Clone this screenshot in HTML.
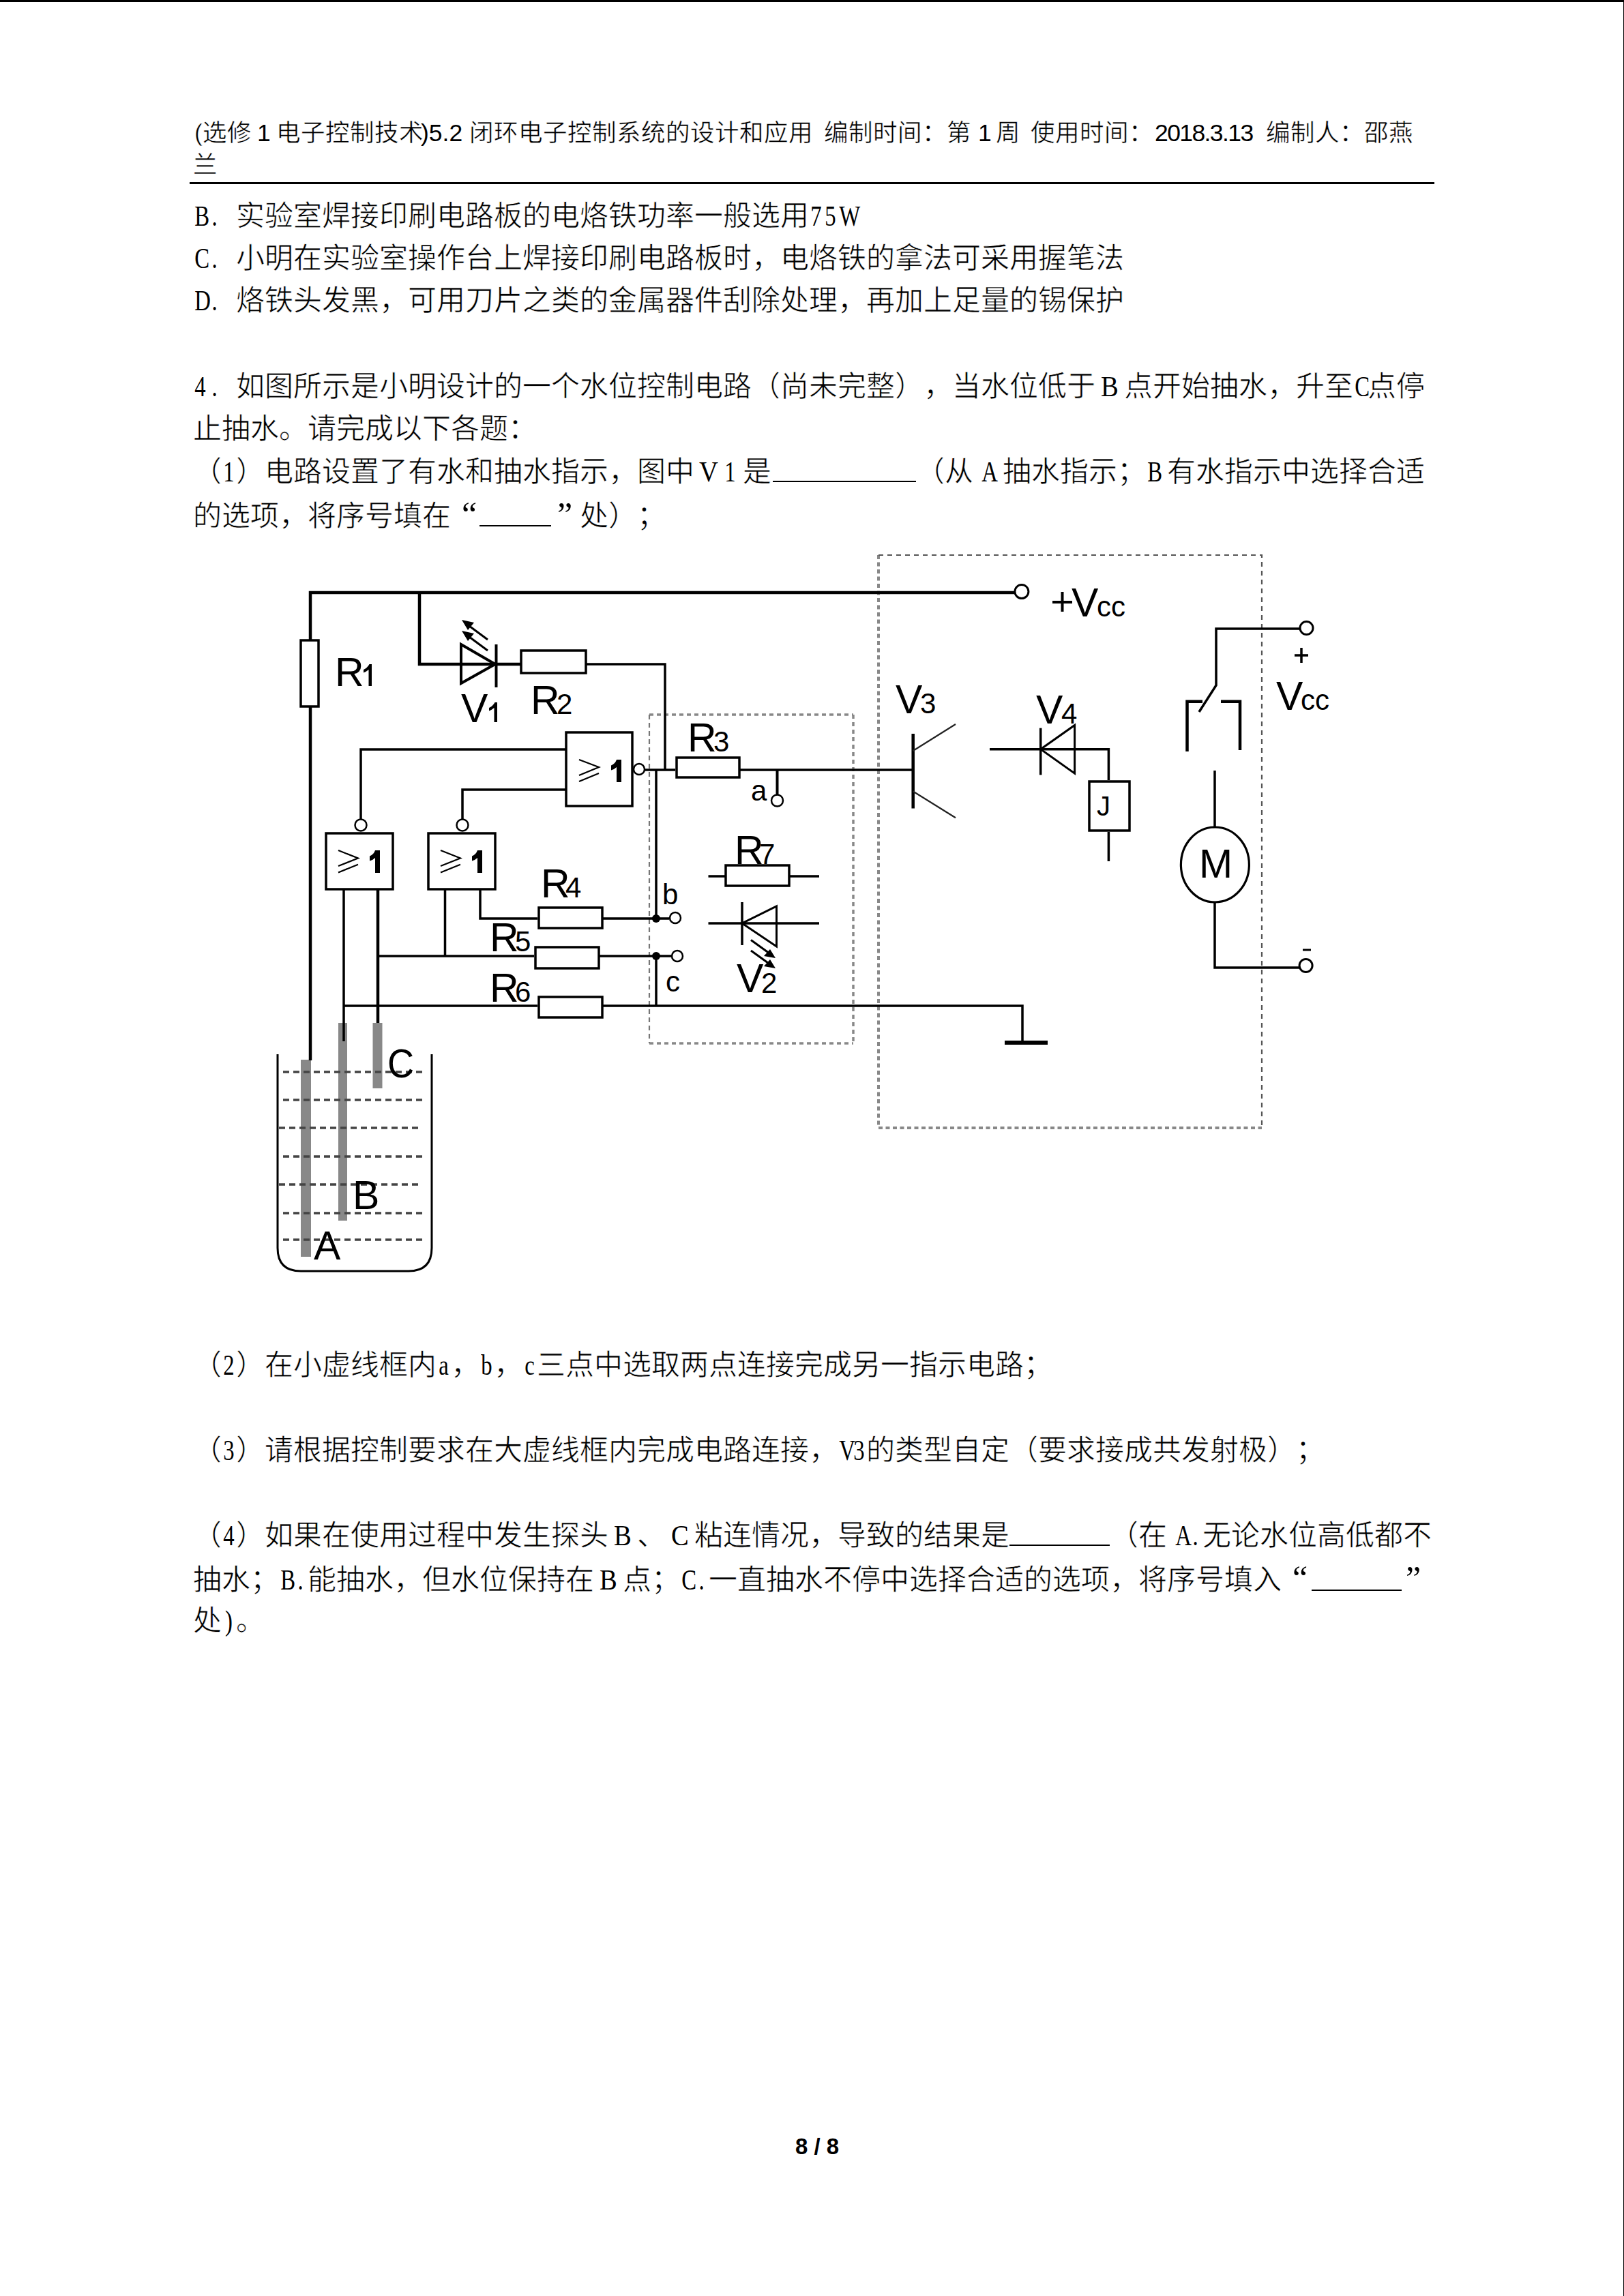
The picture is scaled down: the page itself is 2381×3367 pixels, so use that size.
<!DOCTYPE html><html lang="zh-CN"><head><meta charset="utf-8"><title>page</title><style>
*{margin:0;padding:0}
html,body{width:2381px;height:3367px;background:#fff;overflow:hidden}
#pg{position:absolute;left:0;top:0;width:2381px;height:3367px;background:#fff;overflow:hidden}
.s{position:absolute;white-space:pre;font-family:"Liberation Serif",serif;font-size:42px;line-height:62px;color:#000;text-spacing-trim:space-all;text-autospace:no-autospace;font-kerning:none;-webkit-text-stroke:0.7px #fff}
.h{position:absolute;white-space:pre;font-family:"Liberation Sans",sans-serif;font-size:35.5px;line-height:46px;color:#000;text-spacing-trim:space-all;text-autospace:no-autospace;-webkit-text-stroke:0.5px #fff}
.lat{-webkit-text-stroke:0}
.w,.f{-webkit-text-stroke:0}
.w{display:inline-block;width:21px;text-align:center;transform:scaleX(.78)}
.f{display:inline-block;width:42px;text-align:center;transform:scaleX(.92)}
.ql{display:inline-block;width:42px;text-align:left;padding-left:16px;box-sizing:border-box;font-size:50px;-webkit-text-stroke:0}
.u{display:inline-block;height:2px;background:#000;vertical-align:-1px}
.qr{display:inline-block;width:42px;text-align:left;padding-left:9px;box-sizing:border-box;font-size:50px;-webkit-text-stroke:0}
svg{position:absolute;left:0;top:0}
</style></head><body><div id="pg">
<div class="s" style="left:283px;top:286px"><span class="w">B</span><span class="w">.</span><span class="w"> </span>实验室焊接印刷电路板的电烙铁功率一般选用<span class="w">7</span><span class="w">5</span><span class="w">W</span></div>
<div class="s" style="left:283px;top:348px"><span class="w">C</span><span class="w">.</span><span class="w"> </span>小明在实验室操作台上焊接印刷电路板时，电烙铁的拿法可采用握笔法</div>
<div class="s" style="left:283px;top:410px"><span class="w">D</span><span class="w">.</span><span class="w"> </span>烙铁头发黑，可用刀片之类的金属器件刮除处理，再加上足量的锡保护</div>
<div class="s" style="left:283px;top:536px"><span class="w">4</span><span class="w">.</span><span class="w"> </span>如图所示是小明设计的一个水位控制电路（尚未完整），当水位低于<span class="f">B</span>点开始抽水，升至<span class="w">C</span>点停</div>
<div class="s" style="left:283px;top:598px">止抽水。请完成以下各题：</div>
<div class="s" style="left:283px;top:661px">（<span class="w">1</span>）电路设置了有水和抽水指示，图中<span class="f">V</span><span class="w">1</span></div>
<div class="s" style="left:1089px;top:661px">是</div>
<div class="s" style="left:1133px;top:661px"><span class="u" style="width:210px"></span></div>
<div class="s" style="left:1343px;top:661px">（从</div>
<div class="s" style="left:1437px;top:661px"><span class="w">A</span></div>
<div class="s" style="left:1470px;top:661px">抽水指示；<span class="w">B</span></div>
<div class="s" style="left:1711px;top:661px">有水指示中选择合适</div>
<div class="s" style="left:283px;top:723px">的选项，将序号填在<span class="ql">“</span><span class="u" style="width:105px"></span><span class="qr">”</span>处）；</div>
<div class="s" style="left:283px;top:1971px">（<span class="w">2</span>）在小虚线框内<span class="w">a</span>，<span class="w">b</span>，<span class="w">c</span>三点中选取两点连接完成另一指示电路；</div>
<div class="s" style="left:283px;top:2096px">（<span class="w">3</span>）请根据控制要求在大虚线框内完成电路连接，<span class="w">V</span><span class="w">3</span>的类型自定（要求接成共发射极）；</div>
<div class="s" style="left:283px;top:2221px">（<span class="w">4</span>）如果在使用过程中发生探头<span class="f">B</span>、<span class="f">C</span>粘连情况，导致的结果是<span class="u" style="width:147px"></span>（在</div>
<div class="s" style="left:1721px;top:2221px"><span class="w">A</span><span class="w">.</span></div>
<div class="s" style="left:1763px;top:2221px">无论水位高低都不</div>
<div class="s" style="left:283px;top:2283px">抽水；<span class="w">B</span><span class="w">.</span>能抽水，但水位保持在<span class="f">B</span>点；<span class="w">C</span><span class="w">.</span>一直抽水不停中选择合适的选项，将序号填入<span class="ql">“</span></div>
<div class="s" style="left:2052px;top:2283px"><span class="qr">”</span></div>
<div class="s" style="left:283px;top:2346px">处<span class="w">)</span>。</div>
<div class="h" style="left:285px;top:172px;">(选修</div>
<div class="h lat" style="left:377px;top:172px;">1</div>
<div class="h" style="left:405px;top:172px;">电子控制技术</div>
<div class="h lat" style="left:617px;top:172px;">)5.2</div>
<div class="h" style="left:688px;top:172px;">闭环电子控制系统的设计和应用</div>
<div class="h" style="left:1208px;top:172px;">编制时间：第</div>
<div class="h lat" style="left:1434px;top:172px;">1</div>
<div class="h" style="left:1460px;top:172px;">周</div>
<div class="h" style="left:1511px;top:172px;">使用时间：</div>
<div class="h lat" style="left:1693px;top:172px;letter-spacing:-1.6px;">2018.3.13</div>
<div class="h" style="left:1856px;top:172px;">编制人：邵燕</div>
<div class="h" style="left:283px;top:219px">兰</div>
<div style="position:absolute;left:278px;top:267px;width:1825px;height:3px;background:#000"></div>
<div style="position:absolute;left:1923px;top:2331px;width:132px;height:2px;background:#000"></div>
<div style="position:absolute;left:1166px;top:3128px;font-family:'Liberation Sans',sans-serif;font-weight:bold;font-size:33px;line-height:40px;white-space:pre">8 / 8</div>
<svg width="2381" height="3367" viewBox="0 0 2381 3367">
<!-- probes (under wires) -->
<g fill="#888">
<rect x="441" y="1554" width="15" height="289"/>
<rect x="496" y="1500" width="13" height="290"/>
<rect x="546.5" y="1500" width="14" height="96"/>
</g>
<!-- water dashes -->
<g stroke="#444" stroke-width="3.5" stroke-dasharray="9 6" fill="none">
<path d="M415 1572 H624 M415 1613 H624 M409 1654 H618 M415 1696 H624 M409 1737 H618 M415 1779 H624 M415 1818 H624"/>
</g>
<!-- dashed boxes: small -->
<g fill="none" stroke-linecap="butt">
<path d="M952 1048 H1251 M1251 1048 V1530 M952 1530 H1251" stroke="#888" stroke-width="3.5" stroke-dasharray="6 5"/>
<path d="M952 1048 V1530" stroke="#777" stroke-width="2.2" stroke-dasharray="7 5"/>
<!-- big -->
<path d="M1288 814 V1654 H1850" stroke="#888" stroke-width="4" stroke-dasharray="6 4.5"/>
<path d="M1288 814 H1850 V1654" stroke="#555" stroke-width="2.2" stroke-dasharray="7 6"/>
</g>
<g fill="none" stroke="#000" stroke-width="3.5" stroke-linecap="butt" stroke-linejoin="miter">
<!-- top wire and R1 -->
<path d="M455 1555 V869 H1488" stroke-width="4.5"/>
<rect x="441" y="939" width="26" height="97" fill="#fff" stroke-width="3.5"/>
<!-- V1 branch -->
<path d="M615 869 V974 H764" stroke-width="4.5"/>
<path d="M676 945 V1002 L726 974 Z" stroke-width="4"/>
<path d="M727.5 945 V1008" stroke-width="4"/>
<path d="M715 938 L684 915 M715 954 L684 931" stroke-width="3"/>
<rect x="764" y="954" width="95" height="33" fill="#fff" stroke-width="3.5"/>
<path d="M859 974 H975 V1129"/>
<!-- main gate -->
<rect x="830" y="1074" width="97" height="108" stroke-width="3.5"/>
<circle cx="937" cy="1128" r="8" stroke-width="2.5"/>
<path d="M945.5 1129 H990"/>
<path d="M529 1201 V1099 H830 M678 1201 V1158 H830"/>
<!-- gates A,B -->
<rect x="478" y="1222" width="98" height="82" stroke-width="3.5"/>
<rect x="628" y="1222" width="98" height="82" stroke-width="3.5"/>
<circle cx="529" cy="1210" r="8.5" stroke-width="2.5"/>
<circle cx="678" cy="1210" r="8.5" stroke-width="2.5"/>
<path d="M504 1305 V1527" />
<path d="M554 1305 V1500" stroke-width="4.5"/>
<path d="M504 1475 H788 M554 1402 H783 M652.5 1305 V1402 M704 1305 V1347 H788"/>
<!-- R4 R5 R6 -->
<rect x="790" y="1331" width="93" height="30" fill="#fff" stroke-width="3.5"/>
<rect x="785" y="1389" width="93" height="31" fill="#fff" stroke-width="3.5"/>
<rect x="790" y="1462" width="93" height="30" fill="#fff" stroke-width="3.5"/>
<path d="M883 1347 H981 M878 1402 H984 M962 1129 V1347 M962 1402 V1475 M883 1475 H1499 V1529"/>
<path d="M1473 1529 H1536" stroke-width="6"/>
<circle cx="962" cy="1347" r="6" fill="#000" stroke="none"/>
<circle cx="962" cy="1402" r="6" fill="#000" stroke="none"/>
<circle cx="990" cy="1346" r="8" stroke-width="2.5"/>
<circle cx="993" cy="1402" r="8" stroke-width="2.5"/>
<!-- R3, a -->
<rect x="992" y="1111" width="92" height="29" fill="#fff" stroke-width="3.5"/>
<path d="M1084 1129 H1338.7"/>
<path d="M1139.5 1129 V1165" stroke-width="4"/>
<circle cx="1139.5" cy="1174" r="8.5" stroke-width="2.5"/>
<!-- R7 -->
<rect x="1064" y="1269" width="93" height="30" stroke-width="3.5"/>
<path d="M1038.5 1285 H1064 M1157 1285 H1201"/>
<!-- V2 -->
<path d="M1038.5 1354 H1201"/>
<path d="M1088 1323 V1386" stroke-width="3.5"/>
<path d="M1138.5 1329 V1388 L1088 1354 Z" stroke-width="3"/>
<path d="M1101 1378.5 L1128 1398 M1101 1394 L1128 1413.5" stroke-width="3"/>
<!-- V3 -->
<path d="M1338.7 1076 V1185.5" stroke-width="4.5"/>
<path d="M1338.7 1101 L1401 1062 M1338.7 1160.5 L1401 1199.3" stroke-width="2.2" stroke="#222"/>
<!-- V4, J -->
<path d="M1451 1098.7 H1625.4 V1144"/>
<path d="M1525.7 1067.7 V1136.4" stroke-width="3.5"/>
<path d="M1575.6 1063.5 V1134.2 L1525.7 1098.7 Z" stroke-width="3"/>
<rect x="1597" y="1146" width="59" height="72" stroke-width="3.5"/>
<path d="M1625.4 1220 V1263"/>
<!-- switch -->
<path d="M1906 922 H1783 V1005 L1758 1044"/>
<path d="M1763 1028.7 H1740.5 V1102 M1790 1028.7 H1818 V1100" stroke-width="4.5"/>
<circle cx="1915.5" cy="921" r="9.5" stroke-width="3"/>
<!-- motor -->
<path d="M1781 1130 V1213 M1781 1323.5 V1419 H1905"/>
<ellipse cx="1781.4" cy="1268" rx="50" ry="55" stroke-width="3.2"/>
<circle cx="1914.6" cy="1416" r="9.5" stroke-width="3"/>
<circle cx="1497.9" cy="867.6" r="10" stroke-width="3"/>
<!-- beaker -->
<path d="M407 1546 V1830 Q407 1864 441 1864 H599 Q633 1864 633 1830 V1546" stroke-width="3"/>
<!-- plus signs -->
<path d="M1543 883 H1572 M1557.5 868 V897" stroke-width="4"/>
<path d="M1898 961 H1918 M1908 950 V972" stroke-width="3.5"/>
<path d="M1910 1393 H1922" stroke-width="3"/>
</g>
<g fill="#000"><path d="M540.5 1006 V982 Q537 985 533 986.5 V982 Q539 979 541.5 974 H545 V1006 Z"/><path d="M724.5 1059 V1038 Q721 1041 717 1042.5 V1038 Q723 1035 725.5 1030 H729 V1059 Z"/></g>
<!-- arrowheads -->
<g fill="#000">
<path d="M677 909 L695 913 L686 924 Z M677 925 L695 929 L686 940 Z"/>
<path d="M1137 1405 L1120 1402 L1129 1392 Z M1137 1420 L1120 1417 L1129 1407 Z"/>
</g>
<!-- gate symbols -->
<g stroke="#000" stroke-width="2.2" fill="none">
<path d="M849 1114 L878 1125 L849 1137 M849 1146 L878 1134"/>
<path d="M496 1247 L525 1258.6 L496 1270 M496 1279.5 L525 1267.7"/>
<path d="M646 1247 L675 1258.6 L646 1270 M646 1279.5 L675 1267.7"/>
</g>
<g fill="#000">
<path d="M904 1114 H911 V1147 H904 V1125 Q901 1128 896 1129.5 V1122.5 Q902 1120 904 1114 Z"/>
<path d="M550 1247 H557 V1280 H550 V1258 Q547 1261 542 1262.5 V1255.5 Q548 1253 550 1247 Z"/>
<path d="M700 1247 H707 V1280 H700 V1258 Q697 1261 692 1262.5 V1255.5 Q698 1253 700 1247 Z"/>
</g>
<g font-family="Liberation Sans, sans-serif" fill="#000">
<g font-size="59">
<text x="491" y="1006">R</text>
<text x="676" y="1059">V</text>
<text x="778" y="1047">R</text>
<text x="1008" y="1102">R</text>
<text x="1077" y="1267">R</text>
<text x="1080" y="1455">V</text>
<text x="793" y="1316">R</text>
<text x="718" y="1395">R</text>
<text x="718" y="1469">R</text>
<text x="1571" y="904">V</text>
<text x="1313" y="1046">V</text>
<text x="1519" y="1061">V</text>
<text x="1871" y="1041">V</text>
<text x="1758" y="1287">M</text>
<text x="568" y="1580" transform="translate(568 1580) scale(.92 1) translate(-568 -1580)">C</text>
<text x="517" y="1773">B</text>
<text x="460" y="1847">A</text>
</g>
<g font-size="42">
<text x="816" y="1047">2</text>
<text x="1046" y="1102">3</text>
<text x="1113" y="1267">7</text>
<text x="1116" y="1456">2</text>
<text x="829" y="1316">4</text>
<text x="755" y="1395">5</text>
<text x="755" y="1469">6</text>
<text x="1608" y="904">cc</text>
<text x="1349" y="1046">3</text>
<text x="1556" y="1061">4</text>
<text x="1907" y="1041">cc</text>
<text x="1101" y="1174">a</text>
<text x="971" y="1326">b</text>
<text x="976" y="1454">c</text>
</g>
<text x="1608" y="1196" font-size="40">J</text>
</g>
</svg>

<div style="position:absolute;left:0;top:0;width:2381px;height:3px;background:#000"></div><div style="position:absolute;left:2380px;top:0;width:1px;height:3367px;background:#000"></div>
</div></body></html>
